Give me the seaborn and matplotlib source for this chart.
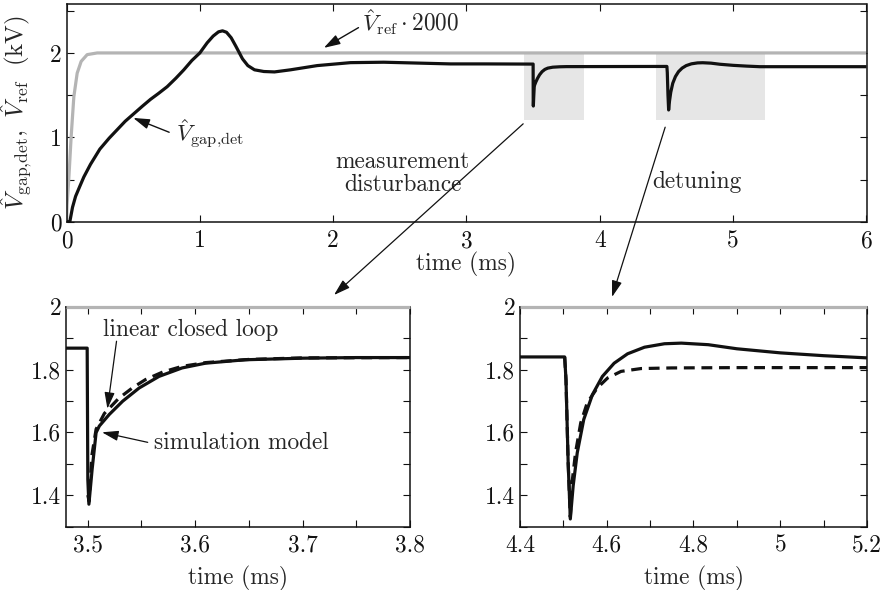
import numpy as np
import pandas as pd
import matplotlib
matplotlib.use("Agg")
import matplotlib.pyplot as plt
import seaborn as sns
from matplotlib.patches import Rectangle

# ---------------- data ----------------
# reference voltage (gray), top panel
t_ref = [0.0, 0.004, 0.017, 0.035, 0.055, 0.08, 0.11, 0.155, 0.23, 6.0]
v_ref = [0.0, 0.2, 0.5, 1.01, 1.48, 1.76, 1.90, 1.98, 2.0, 2.0]

# gap voltage start-up, 0 .. 3.48 ms
t_start = [0.0, 0.025, 0.045, 0.068, 0.10, 0.13, 0.18, 0.25, 0.32, 0.38,
           0.44, 0.505, 0.57, 0.63, 0.69, 0.755, 0.82, 0.88, 0.94, 1.0,
           1.055, 1.10, 1.14, 1.17, 1.20, 1.235, 1.27, 1.32, 1.36, 1.41,
           1.48, 1.56, 1.68, 1.88, 2.13, 2.38, 2.63, 2.88, 3.13, 3.48]
v_start = [0.0, 0.0, 0.17, 0.30, 0.42, 0.53, 0.68, 0.86, 0.99, 1.09,
           1.19, 1.28, 1.37, 1.45, 1.52, 1.60, 1.70, 1.80, 1.91, 2.0,
           2.12, 2.20, 2.25, 2.262, 2.245, 2.18, 2.08, 1.93, 1.85, 1.80,
           1.78, 1.775, 1.80, 1.85, 1.885, 1.89, 1.88, 1.87, 1.87, 1.868]

# measurement disturbance: simulation model (solid) and linear closed loop (dashed)
t_meas = [3.48, 3.4997, 3.5003, 3.5013, 3.5043, 3.508, 3.511, 3.5203, 3.5327,
          3.548, 3.5665, 3.588, 3.6096, 3.6465, 3.70, 3.75, 3.80]
v_meas = [1.868, 1.868, 1.45, 1.371, 1.482, 1.599, 1.62, 1.657, 1.699,
          1.741, 1.778, 1.805, 1.82, 1.831, 1.836, 1.838, 1.838]
t_meas_lin = [3.5003, 3.5015, 3.504, 3.508, 3.5157, 3.529, 3.542, 3.554,
              3.57, 3.588, 3.61, 3.65, 3.70, 3.80]
v_meas_lin = [1.40, 1.38, 1.525, 1.61, 1.66, 1.708, 1.742, 1.768,
              1.792, 1.810, 1.822, 1.832, 1.837, 1.838]

# detuning: simulation model (solid) and linear closed loop (dashed)
t_det = [4.4, 4.503, 4.506, 4.511, 4.516, 4.5226, 4.532, 4.547, 4.567, 4.59,
         4.617, 4.648, 4.687, 4.733, 4.772, 4.834, 4.9, 5.0, 5.1, 5.2]
v_det = [1.84, 1.84, 1.768, 1.504, 1.324, 1.43, 1.535, 1.641, 1.72, 1.778,
         1.82, 1.85, 1.871, 1.882, 1.884, 1.879, 1.866, 1.853, 1.844, 1.837]
t_det_lin = [4.503, 4.506, 4.511, 4.516, 4.52, 4.528, 4.54, 4.555, 4.578,
             4.602, 4.633, 4.679, 4.749, 4.9, 5.2]
v_det_lin = [1.84, 1.768, 1.504, 1.33, 1.44, 1.535, 1.63, 1.694, 1.741,
             1.773, 1.794, 1.803, 1.805, 1.806, 1.806]

t_end = [6.0]
v_end = [1.837]

# highlighted windows in the top panel
meas_box_t = [3.43, 3.88]
det_box_t = [4.42, 5.24]
box_v = [1.2, 2.0]

# ---------------- style ----------------
sns.set_style("ticks")
plt.rcParams["font.family"] = ["cmr10", "DejaVu Serif"]
plt.rcParams["mathtext.fontset"] = "cm"
plt.rcParams["axes.formatter.use_mathtext"] = True
plt.rcParams["font.size"] = 16.8
plt.rcParams["axes.unicode_minus"] = False

BLACK = "#111111"
GRAY = "#b4b4b4"
BOX = "#e6e6e6"
LW = 2.3

W, H = 886, 590
fig = plt.figure(figsize=(W / 100, H / 100), dpi=100)


def px_axes(left, top, right, bottom):
    return fig.add_axes([left / W, 1 - bottom / H, (right - left) / W, (bottom - top) / H])


ax_top = px_axes(66.5, 4, 866.5, 221.7)
ax_bl = px_axes(66, 306.7, 410, 526.5)
ax_br = px_axes(520, 306.7, 867, 526.5)


def line(ax, x, y, color, ls="-", z=3, clip=True):
    df = pd.DataFrame({"t": x, "v": y})
    sns.lineplot(data=df, x="t", y="v", ax=ax, color=color, lw=LW, linestyle=ls,
                 estimator=None, sort=False, legend=False, zorder=z)
    ax.lines[-1].set_clip_on(clip)
    ax.lines[-1].set_solid_capstyle("butt")
    ax.lines[-1].set_solid_joinstyle("round")


DASH = (0, (3.4, 2.1))

# ---- top panel ----
t_top = t_start + t_meas[1:] + t_det[1:] + t_end
v_top = v_start + v_meas[1:] + v_det[1:] + v_end
for bt in (meas_box_t, det_box_t):
    ax_top.add_patch(Rectangle((bt[0], box_v[0]), bt[1] - bt[0], box_v[1] - box_v[0],
                               facecolor=BOX, edgecolor="none", zorder=0))
line(ax_top, t_ref, v_ref, GRAY, z=2)
line(ax_top, t_top, v_top, BLACK, z=3)
ax_top.set_xlim(0, 6)
ax_top.set_ylim(0, 2.58)
ax_top.set_xticks(np.arange(0, 7, 1))
ax_top.set_xticklabels(["0", "1", "2", "3", "4", "5", "6"])
ax_top.set_yticks([0, 0.5, 1, 1.5, 2, 2.5])
ax_top.set_yticklabels(["0", "", "1", "", "2", ""])

# ---- bottom left ----
line(ax_bl, [3.48, 3.8], [2.0, 2.0], GRAY, z=6, clip=False)
line(ax_bl, t_meas, v_meas, BLACK, z=3)
line(ax_bl, t_meas_lin, v_meas_lin, BLACK, ls=DASH, z=4)
ax_bl.set_xlim(3.48, 3.8)
ax_bl.set_ylim(1.3, 2.0)
ax_bl.set_xticks([3.5, 3.55, 3.6, 3.65, 3.7, 3.75, 3.8])
ax_bl.set_xticklabels(["3.5", "", "3.6", "", "3.7", "", "3.8"])
ax_bl.set_yticks([1.3, 1.4, 1.5, 1.6, 1.7, 1.8, 1.9, 2.0])
ax_bl.set_yticklabels(["", "1.4", "", "1.6", "", "1.8", "", "2"])

# ---- bottom right ----
line(ax_br, [4.4, 5.2], [2.0, 2.0], GRAY, z=6, clip=False)
line(ax_br, t_det, v_det, BLACK, z=3)
line(ax_br, t_det_lin, v_det_lin, BLACK, ls=DASH, z=4)
ax_br.set_xlim(4.4, 5.2)
ax_br.set_ylim(1.3, 2.0)
ax_br.set_xticks([4.4, 4.5, 4.6, 4.7, 4.8, 4.9, 5.0, 5.1, 5.2])
ax_br.set_xticklabels(["4.4", "", "4.6", "", "4.8", "", "5", "", "5.2"])
ax_br.set_yticks([1.3, 1.4, 1.5, 1.6, 1.7, 1.8, 1.9, 2.0])
ax_br.set_yticklabels(["", "1.4", "", "1.6", "", "1.8", "", "2"])

for ax in (ax_top, ax_bl, ax_br):
    ax.set_xlabel("time (ms)")
    ax.set_ylabel("")
    for s in ax.spines.values():
        s.set_visible(True)
        s.set_linewidth(1.1)
        s.set_color(BLACK)
    ax.tick_params(direction="in", top=True, right=True, length=5, width=0.8,
                   color=BLACK, labelcolor=BLACK)
    ax.tick_params(axis="x", pad=6)
    ax.tick_params(axis="y", pad=3.5)
    ax.set_facecolor("white")

ax_top.xaxis.set_label_coords(0.5, -0.14)
ax_bl.xaxis.set_label_coords(0.5, -0.178)
ax_br.xaxis.set_label_coords(0.5, -0.178)
ax_top.set_ylabel(r"$\hat{V}_{\rm gap{,}det},\ \hat{V}_{\rm ref}\ \ ({\rm kV})$",
                  fontsize=18)
ax_top.yaxis.set_label_coords(-0.040, 0.5)

# ---- annotations ----
AP = dict(arrowstyle="-|>,head_length=0.9,head_width=0.28", color=BLACK, lw=1.0,
          mutation_scale=11, shrinkA=0, shrinkB=0)
AL = dict(arrowstyle="-|>,head_length=0.9,head_width=0.28", color=BLACK, lw=0.9,
          mutation_scale=11, shrinkA=0, shrinkB=0)

ax_top.annotate("", xy=(1.93, 2.06), xytext=(2.19, 2.30), arrowprops=AP)
ax_top.text(2.22, 2.36, r"$\hat{V}_{\rm ref}\cdot 2000$", ha="left", va="center")
ax_top.annotate("", xy=(0.50, 1.23), xytext=(0.77, 1.06), arrowprops=AP)
ax_top.text(0.82, 1.04, r"$\hat{V}_{\rm gap{,}det}$", ha="left", va="center")
ax_top.text(2.52, 0.57, "measurement\ndisturbance", ha="center", va="center",
            linespacing=1.05)
ax_top.text(4.73, 0.47, "detuning", ha="center", va="center")

ax_top.annotate("", xy=(334 / W, 1 - 295 / H), xycoords="figure fraction",
                xytext=(3.425, 1.16), textcoords="data", arrowprops=AL,
                annotation_clip=False)
ax_top.annotate("", xy=(612 / W, 1 - 297 / H), xycoords="figure fraction",
                xytext=(4.49, 1.12), textcoords="data", arrowprops=AL,
                annotation_clip=False)

ax_bl.annotate("", xy=(3.5185, 1.675), xytext=(3.527, 1.89), arrowprops=AL)
ax_bl.text(3.5145, 1.926, "linear closed loop", ha="left", va="center")
ax_bl.annotate("", xy=(3.5135, 1.600), xytext=(3.556, 1.568), arrowprops=AL)
ax_bl.text(3.5615, 1.567, "simulation model", ha="left", va="center")

fig.savefig("out.png", dpi=100, facecolor="white")
